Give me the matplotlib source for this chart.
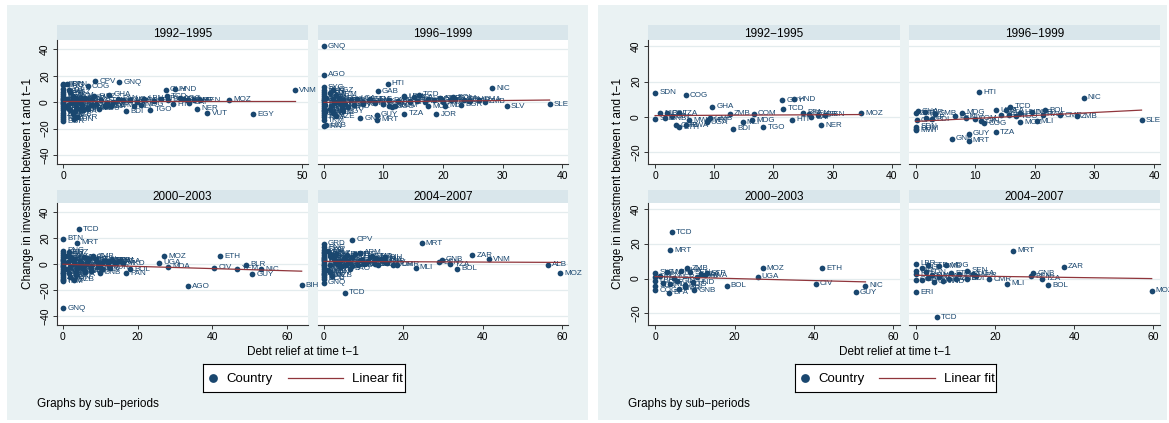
import numpy as np
import matplotlib.pyplot as plt

plt.rcParams['font.family'] = ['Liberation Sans', 'DejaVu Sans']

periods = ['1992−1995', '1996−1999', '2000−2003', '2004−2007']

# HIPC countries (right graph; also part of the left graph)
hipc_lab_1 = ['SDN', 'COG', 'GHA', 'GUY', 'HND', 'TCD', 'MOZ', 'SEN', 'NER', 'HTI', 'CAF', 'TGO', 'BDI', 'MDG', 'MLI',
              'ZMB', 'COM', 'SLE', 'NIC', 'CMR', 'ETH', 'RWA', 'MWI', 'UGA', 'MRT', 'GMB', 'BOL', 'TZA', 'GIN', 'GNB',
              'BFA', 'BEN', 'LBR']
hipc_x_1 = [0.0, 5.2, 9.7, 21.5, 23.5, 21.7, 34.8, 28.7, 28.1, 23.1, 26.4, 18.3, 13.2, 16.4, 14.8,
            12.6, 16.7, 0.0, 0.8, 3.6, 4.1, 5.3, 5.8, 8.7, 9.0, 9.3, 2.0, 4.0, 2.8, 1.7,
            25.0, 26.1, 27.5]
hipc_y_1 = [13.8, 12.3, 5.8, 9.6, 10.0, 4.6, 2.0, 1.4, -4.8, -1.5, -0.2, -5.8, -6.7, -1.9, -2.9,
            1.7, 1.7, -0.9, 2.2, -4.8, -5.8, -4.8, -1.9, -2.9, -1.9, -0.6, 2.2, 2.2, 0.5, -0.6,
            2.4, 1.7, 1.4]

hipc_lab_2 = ['HTI', 'NIC', 'TCD', 'BOL', 'ZMB', 'CMR', 'SLE', 'MLI', 'MOZ', 'TZA', 'GUY', 'MRT', 'GNB', 'MDG', 'UGA',
              'BFA', 'ETH', 'HND', 'NER', 'RWA', 'SEN', 'TGO', 'BEN', 'CIV', 'COM', 'GIN', 'COG', 'GHA', 'ZAR', 'CAF',
              'SDN', 'MWI', 'BDI', 'GMB', 'LBR', 'SOM', 'STP']
hipc_x_2 = [10.7, 28.2, 15.9, 21.7, 27.0, 24.3, 37.9, 20.3, 17.5, 13.5, 8.9, 8.9, 6.1, 7.8, 13.5,
            15.1, 15.6, 17.5, 19.6, 21.3, 14.4, 16.9, 6.6, 8.5, 9.9, 11.0, 11.5, 0.4, 0.0, 0.2,
            0.1, 0.1, 2.8, 3.2, 1.5, 0.1, 1.7]
hipc_y_2 = [14.0, 10.8, 5.8, 3.7, 0.4, 1.0, -1.7, -2.5, -2.9, -8.6, -9.6, -13.4, -12.3, 2.3, 3.9,
            3.9, 1.0, 2.3, 2.7, 1.4, 1.0, 0.4, 0.4, -0.5, -1.0, -2.5, -3.5, 3.2, 2.0, -1.8,
            -5.6, -7.5, -1.2, 1.7, 2.7, -6.6, -0.5]

hipc_lab_3 = ['TCD', 'MRT', 'MOZ', 'ETH', 'UGA', 'CIV', 'NIC', 'GUY', 'BOL', 'GNB', 'BFA', 'ZMB', 'COG', 'CMR', 'MDG',
              'GHA', 'SEN', 'TZA', 'RWA', 'SLE', 'HTI', 'LBR', 'SDN', 'BEN', 'MWI', 'MLI', 'NER', 'GIN', 'CAF', 'HND',
              'BDI', 'GMB', 'STP']
hipc_x_3 = [4.2, 3.8, 27.1, 42.1, 25.8, 40.5, 53.0, 50.6, 18.0, 9.9, 3.6, 8.1, 0.0, 6.0, 7.4,
            6.4, 8.9, 11.5, 12.5, 0.0, 0.0, 0.0, 0.0, 1.3, 2.9, 3.8, 4.8, 5.5, 2.0, 9.5,
            7.5, 10.5, 13.0]
hipc_y_3 = [26.5, 16.3, 5.9, 5.9, 1.0, -2.9, -4.2, -7.7, -4.2, -6.7, -8.1, 5.9, -6.7, -5.8, -3.5,
            4.4, 3.5, 2.5, 2.0, 3.3, 0.8, -1.2, -4.2, 1.5, 3.5, -3.3, 0.5, -1.5, -2.5, -2.0,
            -5.0, 1.0, 3.0]

hipc_lab_4 = ['MRT', 'ZAR', 'BOL', 'MLI', 'CMR', 'GNB', 'TZA', 'BEN', 'MOZ', 'ERI', 'TCD', 'LBR', 'SLE', 'STP', 'GMB',
              'MDG', 'SEN', 'UGA', 'NER', 'NIC', 'HTI', 'COG', 'CIV', 'GIN', 'CAF', 'ZMB', 'BDI', 'SDN', 'RWA', 'BFA',
              'ETH', 'GHA', 'MWI', 'HND']
hipc_x_4 = [24.6, 37.4, 33.5, 23.1, 18.5, 29.7, 31.8, 29.1, 59.6, 0.0, 5.3, 0.0, 1.6, 3.1, 5.9,
            7.7, 13.0, 14.5, 15.3, 0.0, 0.0, 0.0, 1.6, 4.6, 8.5, 10.2, 12.9, 2.5, 4.0, 6.0,
            9.0, 11.0, 3.0, 7.0]
hipc_y_4 = [15.9, 6.7, -3.7, -2.9, -0.4, 3.1, 0.0, 1.2, -7.1, -7.7, -22.1, 8.6, 6.2, 7.5, 7.0,
            7.5, 4.6, 2.7, 1.7, 4.5, 2.7, -0.6, -0.6, -1.9, -0.4, 0.0, 0.0, 3.5, 2.0, 1.0,
            3.0, 2.5, 0.5, -1.5]

# other (non-HIPC) countries, left graph only
other_lab_1 = ['CPV', 'GNQ', 'VNM', 'VUT', 'EGY', 'DMA', 'PNG', 'SYC', 'LSO', 'KEN', 'BGD', 'JAM', 'PAK', 'IND', 'PHL',
               'MAR', 'SLB', 'LKA', 'TON', 'WSM', 'ZWE', 'BRA', 'NPL', 'BGR', 'BTN', 'DJI', 'KGZ', 'ARM', 'ALB', 'MDA',
               'GEO', 'MKD', 'TJK', 'YEM', 'AZE', 'SYR', 'TUN', 'LAO', 'KHM', 'MNG', 'JOR', 'FJI', 'GRD', 'LCA', 'VCT',
               'GTM', 'SLV', 'PRY', 'PAN', 'ECU', 'SWZ', 'DOM', 'NGA', 'KNA', 'LBN', 'CRI', 'ERI', 'AGO', 'NAM', 'SOM']
other_x_1 = [6.7, 11.8, 48.5, 30.2, 39.8, 2.5, 0.0, 0.0, 0.0, 0.0, 0.0, 0.0, 0.0, 0.0, 0.0,
             0.0, 0.0, 0.0, 0.0, 0.0, 0.0, 0.0, 0.0, 0.0, 0.8, 1.2, 1.5, 2.0, 2.5, 3.0,
             3.5, 4.0, 1.0, 1.5, 2.0, 3.0, 2.3, 1.0, 4.5, 5.0, 3.8, 1.8, 2.8, 6.0, 7.0,
             8.0, 9.0, 10.5, 11.5, 7.5, 6.5, 10.0, 14.0, 15.5, 17.0, 19.0, 20.5, 24.5, 26.0, 22.0]
other_y_1 = [16.0, 15.0, 9.0, -8.5, -9.0, -7.0, 12.8, 10.0, 8.0, 6.5, 5.0, 3.5, 2.5, 1.5, 0.0,
             -1.5, -3.0, -4.5, -6.0, -8.0, -9.5, -11.0, -12.5, -14.5, 13.5, 9.0, 7.5, 5.0, 3.0, 1.5,
             0.0, -2.0, -4.0, -6.0, -9.0, -11.5, -13.0, -2.0, 3.5, -4.0, -5.5, 1.0, -3.3, 2.5, -1.0,
             1.5, -3.0, 0.5, 2.8, -5.0, 4.5, -2.5, 1.8, 0.5, 2.8, 1.2, 2.5, 3.0, 1.5, 1.8]

other_lab_2 = ['GNQ', 'AGO', 'GAB', 'SLV', 'BGR', 'JOR', 'SYC', 'PNG', 'KEN', 'LSO', 'BTN', 'IND', 'BGD', 'PHL', 'MAR',
               'LKA', 'PAK', 'JAM', 'WSM', 'ZWE', 'TON', 'NPL', 'TKM', 'IRN', 'UZB', 'DJI', 'KGZ', 'ARM', 'ALB', 'MDA',
               'GEO', 'MKD', 'TJK', 'YEM', 'AZE', 'SYR', 'KHM', 'MNG', 'LAO', 'EGY', 'VNM', 'LCA', 'VCT', 'GTM', 'PRY',
               'ECU', 'PAN', 'DOM', 'VUT', 'LBN', 'CRI', 'NGA', 'KNA', 'SOM', 'ERI', 'DMA', 'SWZ', 'CPV']
other_x_2 = [0.0, 0.0, 9.0, 30.7, 23.0, 18.9, 0.0, 0.0, 0.0, 0.0, 0.0, 0.0, 0.0, 0.0, 0.0,
             0.0, 0.0, 0.0, 0.0, 0.0, 0.0, 0.0, 0.0, 0.0, 0.3, 1.0, 1.5, 2.0, 2.5, 3.0,
             3.5, 4.0, 1.0, 1.5, 2.0, 3.0, 4.5, 5.0, 2.2, 3.2, 1.2, 5.5, 6.5, 7.5, 8.5,
             10.0, 11.0, 12.0, 12.5, 13.5, 14.5, 18.5, 20.0, 22.0, 24.5, 26.0, 19.5, 23.5]
other_y_2 = [42.3, 21.0, 8.2, -3.2, -1.9, -9.0, 11.3, 9.5, 8.0, 6.5, 5.0, 3.5, 2.0, 0.5, -1.0,
             -2.5, -4.0, -5.5, -7.0, -8.5, -10.0, -11.5, -13.5, -18.0, -17.5, 7.0, 9.2, 5.5, 3.0, 1.0,
             -1.5, -3.5, -5.0, -8.0, -10.5, -4.5, 2.0, -2.0, 0.0, -7.0, -2.5, 2.5, -1.0, 2.0, 0.5,
             -1.5, 1.5, -2.5, 1.0, 4.5, 0.0, 1.5, 0.0, 2.5, 0.8, 2.0, 3.0, 1.8]

other_lab_3 = ['BTN', 'MKD', 'MDA', 'BLR', 'YEM', 'AGO', 'BIH', 'GNQ', 'PAN', 'TKM', 'PNG', 'KEN', 'LSO', 'IND', 'BGD',
               'PHL', 'MAR', 'LKA', 'PAK', 'JAM', 'WSM', 'ZWE', 'TON', 'NPL', 'DJI', 'KGZ', 'ARM', 'ALB', 'GEO', 'TJK',
               'AZE', 'SYR', 'TUN', 'UZB', 'KHM', 'MNG', 'SLB', 'LAO', 'VUT', 'ECU', 'EGY', 'VNM', 'LCA', 'VCT', 'GTM',
               'PRY', 'DOM', 'CRI', 'SLV', 'JOR', 'NGA']
other_x_3 = [0.0, 16.2, 28.2, 49.0, 46.7, 33.4, 63.9, 0.0, 16.9, 0.0, 0.0, 0.0, 0.0, 0.0, 0.0,
             0.0, 0.0, 0.0, 0.0, 0.0, 0.0, 0.0, 0.0, 0.0, 1.0, 1.5, 2.0, 2.5, 3.0, 4.0,
             1.0, 1.5, 2.0, 3.0, 4.5, 5.0, 5.5, 6.0, 7.0, 7.5, 3.5, 6.5, 9.0, 10.0, 11.0,
             12.0, 13.0, 14.0, 10.5, 12.5, 15.0]
other_y_3 = [19.3, 0.7, -2.0, -0.75, -3.8, -17.0, -16.2, -33.8, -7.0, -13.3, 10.0, 8.5, 7.0, 5.5, 4.0,
             2.5, -1.0, -2.5, -5.5, -7.0, -8.5, -10.0, -11.5, -12.5, 6.5, 9.0, 5.0, 3.0, 1.0, -1.5,
             -4.0, -7.0, -10.0, -12.0, 2.5, -3.0, 5.0, -5.5, 3.5, -2.0, -6.0, 1.0, 1.5, -1.0, 2.5,
             0.0, 3.0, 1.0, -4.0, -3.0, 2.0]

other_lab_4 = ['CPV', 'GRD', 'ARM', 'VNM', 'ALB', 'GNQ', 'PNG', 'SYC', 'KEN', 'LSO', 'IND', 'BGD', 'PHL', 'MAR', 'LKA',
               'PAK', 'JAM', 'WSM', 'ZWE', 'TON', 'NPL', 'ECU', 'DJI', 'KGZ', 'BTN', 'GEO', 'MDA', 'TJK', 'AZE', 'SYR',
               'TUN', 'UZB', 'KHM', 'MNG', 'SLB', 'LAO', 'VUT', 'LCA', 'VCT', 'GTM', 'PRY', 'DOM', 'CRI', 'SLV', 'JOR',
               'MKD', 'BIH']
other_x_4 = [7.1, 0.0, 9.1, 41.5, 56.5, 0.0, 0.0, 0.0, 0.0, 0.0, 0.0, 0.0, 0.0, 0.0, 0.0,
             0.0, 0.0, 0.0, 0.0, 0.0, 0.0, 0.0, 1.0, 1.5, 2.0, 2.5, 3.0, 3.5, 4.0, 1.0,
             1.5, 2.0, 5.0, 5.5, 6.0, 6.5, 7.0, 9.5, 10.5, 11.5, 12.5, 13.5, 14.5, 16.0, 17.5,
             12.0, 15.5]
other_y_4 = [18.7, 15.7, 8.7, 3.5, -0.75, -14.2, 13.0, 11.0, 9.0, 7.0, 5.5, 4.0, 2.5, 1.0, -1.0,
             -2.5, -4.0, -5.5, -7.0, -8.5, -10.0, -11.5, 10.0, 8.0, 6.0, 4.0, 2.0, 0.0, -2.0, -4.5,
             -6.5, -9.0, 4.5, -1.0, 2.5, -3.5, 5.5, 3.0, 0.5, 5.5, 2.0, -0.5, 3.5, 1.0, -0.5,
             6.0, 5.0]

# linear fit (intercept, slope) per sub-period
fit_all_b0 = [1.0, -0.1, -0.2, 2.0]
fit_all_b1 = [0.0, 0.047, -0.083, -0.013]
fit_hipc_b0 = [0.8, -2.5, 1.15, 1.9]
fit_hipc_b1 = [0.017, 0.169, -0.0575, -0.032]

navy = '#1a476f'
maroon = '#90353b'
bg_col = '#eaf2f3'
strip_col = '#d9e6eb'
grid_col = '#e4ecee'

W, H = 1169, 423


def rect(x0, y0, x1, y1):
    return [x0 / W, 1 - y1 / H, (x1 - x0) / W, (y1 - y0) / H]


fig = plt.figure(figsize=(W / 100, H / 100), dpi=100)


def draw_graph(bg, cols, panels, b0s, b1s, xlims, xticks, ylim, yticks, ylab_x, xlab_pos, leg_box, note_pos):
    axb = fig.add_axes(rect(*bg), zorder=0)
    axb.set_facecolor(bg_col)
    axb.set_xticks([])
    axb.set_yticks([])
    for s in axb.spines.values():
        s.set_visible(False)

    strips = [(25, 40.5), (190, 203)]
    plots = [(40.5, 164), (203, 325)]
    for k, (xs, ys, labs) in enumerate(panels):
        r, c = divmod(k, 2)
        x0, x1 = cols[c]
        st = fig.add_axes(rect(x0, strips[r][0], x1, strips[r][1]), zorder=1)
        st.set_facecolor(strip_col)
        st.set_xticks([])
        st.set_yticks([])
        for s in st.spines.values():
            s.set_visible(False)
        st.text(0.5, 0.45, periods[k], transform=st.transAxes, ha='center', va='center', fontsize=8.5)

        ax = fig.add_axes(rect(x0, plots[r][0], x1, plots[r][1]), zorder=2)
        ax.set_facecolor('white')
        ax.set_xlim(*xlims[k])
        ax.set_ylim(*ylim)
        ax.set_xticks(xticks[k])
        ax.set_yticks(yticks)
        for yv in yticks:
            ax.axhline(yv, color=grid_col, lw=0.9, zorder=1)
        for side in ['top', 'right']:
            ax.spines[side].set_visible(False)
        ax.spines['bottom'].set_color('#333333')
        ax.spines['bottom'].set_linewidth(0.8)
        ax.tick_params(axis='x', labelsize=7.5, length=3, width=0.7, color='#333333', pad=2)
        if c == 0:
            ax.spines['left'].set_color('#333333')
            ax.spines['left'].set_linewidth(0.8)
            ax.tick_params(axis='y', labelsize=7.5, length=3, width=0.7, color='#333333', pad=2,
                           labelrotation=90)
            for lab in ax.get_yticklabels():
                lab.set_va('center')
        else:
            ax.spines['left'].set_visible(False)
            ax.tick_params(axis='y', left=False, labelleft=False)

        ax.scatter(xs, ys, s=17, color=navy, linewidths=0, zorder=3, clip_on=False)
        for xv, yv, lb in zip(xs, ys, labs):
            ax.annotate(lb, (xv, yv), xytext=(3.0, 0), textcoords='offset points', fontsize=5.8,
                        color=navy, va='center', ha='left', annotation_clip=False, zorder=3)
        xx = np.array([min(xs), max(xs)])
        ax.plot(xx, b0s[k] + b1s[k] * xx, color=maroon, lw=0.9, zorder=4)

    fig.text(ylab_x / W, 1 - 183 / H, 'Change in investment between t and t−1', rotation=90,
             ha='center', va='center', fontsize=8.5)
    fig.text(xlab_pos[0] / W, 1 - xlab_pos[1] / H, 'Debt relief at time t−1', ha='center', va='center',
             fontsize=8.5)

    lg = fig.add_axes(rect(*leg_box), zorder=3)
    lg.set_facecolor('white')
    lg.set_xlim(0, 1)
    lg.set_ylim(0, 1)
    lg.set_xticks([])
    lg.set_yticks([])
    for s in lg.spines.values():
        s.set_color('black')
        s.set_linewidth(0.8)
    lg.scatter([0.05], [0.5], s=40, color=navy, linewidths=0)
    lg.text(0.115, 0.47, 'Country', ha='left', va='center', fontsize=9.5)
    lg.plot([0.42, 0.695], [0.5, 0.5], color=maroon, lw=0.9)
    lg.text(0.74, 0.47, 'Linear fit', ha='left', va='center', fontsize=9.5)

    fig.text(note_pos[0] / W, 1 - note_pos[1] / H, 'Graphs by sub−periods', ha='left', va='center',
             fontsize=8.5)


all_panels = [
    (hipc_x_1 + other_x_1, hipc_y_1 + other_y_1, hipc_lab_1 + other_lab_1),
    (hipc_x_2 + other_x_2, hipc_y_2 + other_y_2, hipc_lab_2 + other_lab_2),
    (hipc_x_3 + other_x_3, hipc_y_3 + other_y_3, hipc_lab_3 + other_lab_3),
    (hipc_x_4 + other_x_4, hipc_y_4 + other_y_4, hipc_lab_4 + other_lab_4),
]
hipc_panels = [
    (hipc_x_1, hipc_y_1, hipc_lab_1),
    (hipc_x_2, hipc_y_2, hipc_lab_2),
    (hipc_x_3, hipc_y_3, hipc_lab_3),
    (hipc_x_4, hipc_y_4, hipc_lab_4),
]

draw_graph(bg=(7, 5, 588, 420), cols=[(57, 308), (318, 568)], panels=all_panels,
           b0s=fit_all_b0, b1s=fit_all_b1,
           xlims=[(-1.26, 51.26), (-1.0, 41.0), (-1.6, 65.6), (-1.5, 61.5)],
           xticks=[[0, 50], [0, 10, 20, 30, 40], [0, 20, 40, 60], [0, 20, 40, 60]],
           ylim=(-46.8, 46.8), yticks=[-40, -20, 0, 20, 40],
           ylab_x=28, xlab_pos=(303, 352), leg_box=(203, 364, 405, 392), note_pos=(37, 404))

draw_graph(bg=(598, 5, 1167, 420), cols=[(648, 900), (909, 1160)], panels=hipc_panels,
           b0s=fit_hipc_b0, b1s=fit_hipc_b1,
           xlims=[(-1.2, 41.4), (-1.1, 41.0), (-1.8, 61.7), (-1.7, 61.7)],
           xticks=[[0, 10, 20, 30, 40], [0, 10, 20, 30, 40], [0, 20, 40, 60], [0, 20, 40, 60]],
           ylim=(-26.6, 43.3), yticks=[-20, 0, 20, 40],
           ylab_x=618, xlab_pos=(895, 352), leg_box=(795, 364, 996, 392), note_pos=(628, 404))

fig.savefig('out.png', dpi=100, facecolor='white')
